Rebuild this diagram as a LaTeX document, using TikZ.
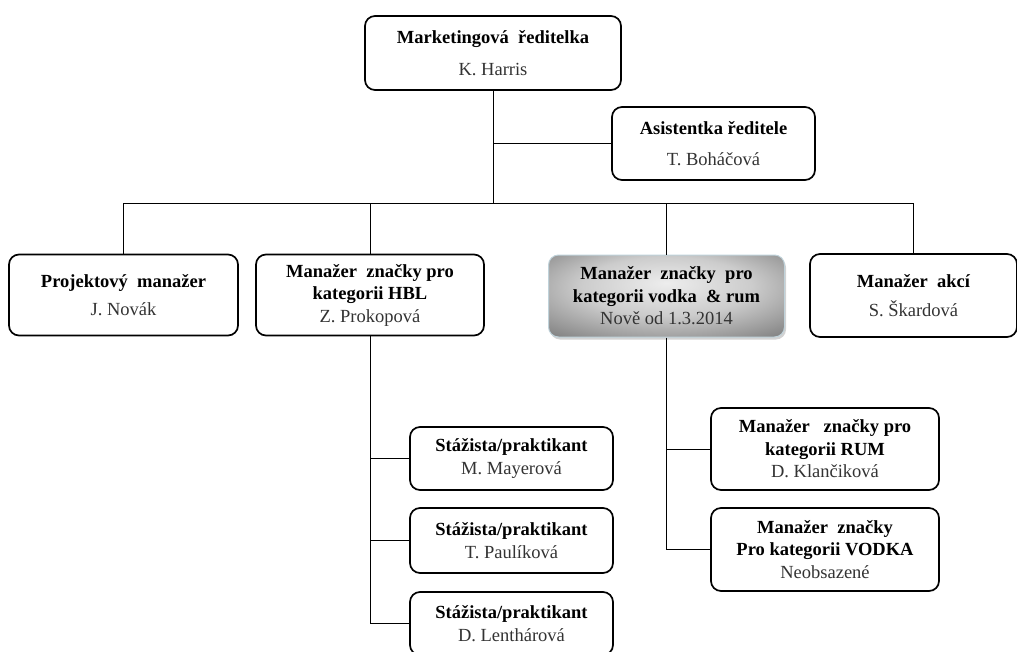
\documentclass[tikz,border=0pt]{standalone}
\usepackage{fontspec}
\setmainfont{Liberation Serif}
\usetikzlibrary{positioning,shadows}

\pgfdeclareradialshading{softglow}{\pgfpoint{0bp}{8bp}}{%
  color(0bp)=(white!93!black); color(18bp)=(white!80!black);
  color(46bp)=(black!62); color(70bp)=(black!62)}

\tikzset{
  post/.style={draw, line width=1.7pt, rounded corners=10pt, align=center,
    fill=white, inner sep=2pt, font=\fontsize{18.5}{22.5}\selectfont},
  newpost/.style={post, draw=cyan!30!gray!45, line width=1pt, shading=softglow,
    drop shadow={opacity=0.35, shadow xshift=1.5pt, shadow yshift=-2.5pt}},
  link/.style={draw, line width=0.9pt},
}
\newcommand{\who}[1]{{\color{black!80}#1}}

\begin{document}
\begin{tikzpicture}[x=1pt,y=-1pt]
\useasboundingbox (0,0) rectangle (1017,651);

%----------------------------
% Top: director and assistant
%----------------------------
\node[post, minimum width=256pt, minimum height=74pt] (boss) at (493,53)
  {\textbf{Marketingová\ \ ředitelka}\\[9pt]\who{K. Harris}};
\node[post, minimum width=203pt, minimum height=73pt] (asist) at (713.5,143.5)
  {\textbf{Asistentka ředitele}\\[8pt]\who{T. Boháčová}};

%----------------------------
% Second row: managers
%----------------------------
\node[post, minimum width=229pt, minimum height=81pt] (pm) at (123.5,295)
  {\textbf{Projektový\ \ manažer}\\[6pt]\who{J. Novák}};
\node[post, minimum width=228pt, minimum height=81pt] (hbl) at (370,295)
  {\textbf{Manažer\ \ značky pro}\\\textbf{kategorii HBL}\\\who{Z. Prokopová}};
\node[newpost, minimum width=236pt, minimum height=82pt] (vodrum) at (666.5,296)
  {\textbf{Manažer\ \ značky\ \ pro}\\\textbf{kategorii vodka\ \ \& rum}\\\who{Nově od 1.3.2014}};
\node[post, minimum width=207pt, minimum height=83pt] (akce) at (913.5,295.5)
  {\textbf{Manažer\ \ akcí}\\[6pt]\who{S. Škardová}};

%----------------------------
% Interns under HBL
%----------------------------
\node[post, minimum width=203pt, minimum height=63pt] (st1) at (511.5,458.5)
  {\textbf{Stážista/praktikant}\\\who{M. Mayerová}};
\node[post, minimum width=203pt, minimum height=65pt] (st2) at (511.5,540.5)
  {\textbf{Stážista/praktikant}\\\who{T. Paulíková}};
\node[post, minimum width=203pt, minimum height=63pt] (st3) at (511.5,623.5)
  {\textbf{Stážista/praktikant}\\\who{D. Lenthárová}};

%----------------------------
% Brand managers under vodka & rum
%----------------------------
\node[post, minimum width=228pt, minimum height=82pt] (rum) at (825,449)
  {\textbf{Manažer\ \ \ značky pro}\\\textbf{kategorii RUM}\\\who{D. Klančiková}};
\node[post, minimum width=228pt, minimum height=83pt] (vodka) at (825,549.5)
  {\textbf{Manažer\ \ značky}\\\textbf{Pro kategorii VODKA}\\\who{Neobsazené}};

%----------------------------
% Connectors
%----------------------------
\coordinate (bus) at (494,203);
\draw[link] (boss.south) -- (boss.south |- bus);
\draw[link] (boss.south |- asist.west) -- (asist.west);
\draw[link] (pm.north |- bus) -- (akce.north |- bus);
\foreach \n in {pm,hbl,vodrum,akce}
  \draw[link] (\n.north |- bus) -- (\n.north);

\draw[link] (hbl.south) |- (st3.west);
\draw[link] (hbl.south |- st1.west) -- (st1.west);
\draw[link] (hbl.south |- st2.west) -- (st2.west);

\draw[link] (vodrum.south) |- (vodka.west);
\draw[link] (vodrum.south |- rum.west) -- (rum.west);
\end{tikzpicture}
\end{document}
